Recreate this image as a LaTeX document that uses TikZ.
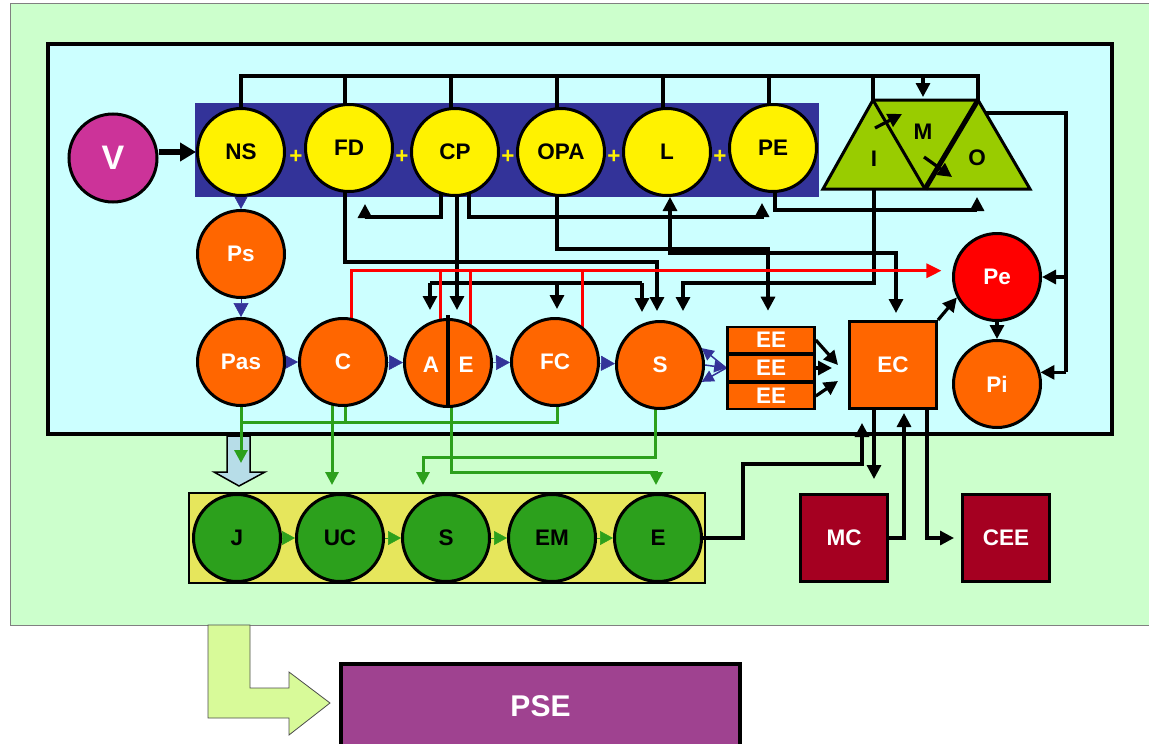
\documentclass[tikz,border=0pt]{standalone}
\usepackage{fontspec}
\setmainfont{Liberation Sans}
\usetikzlibrary{calc}
\usetikzlibrary{arrows.meta}
\definecolor{bgreen}{HTML}{CCFFCC}
\definecolor{cyanbg}{HTML}{CCFFFF}
\definecolor{band}{HTML}{333399}
\definecolor{orng}{HTML}{FF6600}
\definecolor{dgreen}{HTML}{2CA01C}
\definecolor{ybox}{HTML}{E6E65C}
\definecolor{mcred}{HTML}{A50021}
\definecolor{pse}{HTML}{9F4290}
\definecolor{vmag}{HTML}{CC3399}
\definecolor{trapg}{HTML}{99CC00}
\definecolor{lblue}{HTML}{B7DDE8}
\definecolor{bentg}{HTML}{D8FA99}
\newcommand\lbl{\fontsize{22.5}{25}\selectfont\bfseries}
\pgfdeclarelayer{back}
\pgfdeclarelayer{wires}
\pgfsetlayers{back,wires,main}

\begin{document}
\begin{tikzpicture}[x=1pt,y=-1pt,
  ball/.style={circle,draw,line width=3pt,minimum size=87pt,inner sep=0pt,font=\lbl},
  yball/.style={ball,fill=yellow},
  oball/.style={ball,fill=orng,text=white},
  gball/.style={ball,fill=dgreen},
  sqbox/.style={draw,line width=3pt,minimum size=87pt,inner sep=0pt,font=\lbl,text=white},
  eebox/.style={draw,line width=2.6pt,fill=orng,minimum width=87pt,minimum height=26pt,inner sep=0pt,font=\lbl,text=white},
  wire/.style={line width=3.2pt},
  arr/.style={wire,-{Triangle[length=14pt,width=14pt]}},
  arrs/.style={wire,{Triangle[length=14pt,width=14pt]}-{Triangle[length=14pt,width=14pt]}},
  rw/.style={line width=3pt,draw=red},
  rarr/.style={rw,-{Triangle[length=15pt,width=14pt]}},
  gw/.style={line width=3pt,draw=dgreen},
  garr/.style={gw,-{Triangle[length=13pt,width=13pt]}},
  btri/.style={draw=band,line width=0.5pt,-{Triangle[length=14pt,width=15pt]}},
  gtri/.style={draw=dgreen,line width=0.5pt,-{Triangle[length=13pt,width=14pt]}},
  barr/.style={draw=band,line width=1.5pt,-{Triangle[length=12pt,width=12pt]}},
  plus/.style={text=yellow,font=\lbl}]
\useasboundingbox (0,0) rectangle (1149,744);

% nodes
\node[circle,draw,line width=3pt,fill=vmag,minimum size=88pt,inner sep=0pt,
  text=white,font=\fontsize{34}{38}\selectfont\bfseries] (V) at (113,158) {V};
\node[yball] (NS) at (241,152) {NS};
\node[yball] (FD) at (349,148) {FD};
\node[yball] (CP) at (455,152) {CP};
\node[yball] (OPA) at (561,152) {OPA};
\node[yball] (L) at (667,152) {L};
\node[yball] (PE) at (773,148) {PE};
\foreach \x [count=\i] in {296,402,508,614,720}
  \node[plus] (plus\i) at (\x,157) {+};

\node[oball] (Ps) at (241,254) {Ps};
\node[oball] (Pas) at (241,362) {Pas};
\node[oball] (C) at (343,362) {C};
\node[oball] (AE) at (448,363) {};
\node[text=white,font=\lbl] (A) at (431,365) {A};
\node[text=white,font=\lbl] (E) at (466,365) {E};
\draw[line width=3.5pt] ([yshift=3pt]AE.north) -- (AE.south);
\node[oball] (FC) at (555,362) {FC};
\node[oball] (S) at (660,365) {S};
\node[eebox] (EE1) at (771,340) {EE};
\node[eebox] (EE2) at (771,368) {EE};
\node[eebox] (EE3) at (771,396) {EE};
\node[sqbox,fill=orng] (EC) at (893,365) {EC};
\node[ball,fill=red,text=white] (Pe) at (997,277) {Pe};
\node[oball] (Pi) at (997,384) {Pi};

\node[gball] (J) at (237,538) {J};
\node[gball] (UC) at (340,538) {UC};
\node[gball] (Sb) at (446,538) {S};
\node[gball] (EM) at (552,538) {EM};
\node[gball] (Eb) at (658,538) {E};
\node[sqbox,fill=mcred] (MC) at (844,538) {MC};
\node[sqbox,fill=mcred] (CEE) at (1006,538) {CEE};
\node[draw,line width=3.5pt,fill=pse,text=white,font=\fontsize{30}{34}\selectfont\bfseries,
  minimum width=399pt,minimum height=84pt] (PSE) at (540.5,706) {PSE};

% trapezoid I M O
\coordinate (BL) at (823,189);
\coordinate (BM) at (925,189);
\coordinate (BR) at (1030,189);
\coordinate (TL) at (873,100);
\coordinate (TR) at (978,100);
\draw[fill=trapg,line width=3pt] (BL) -- (TL) -- (TR) -- (BR) -- cycle;
\draw[line width=3pt] (TL) -- (BM);
\draw[line width=5pt] (BM) -- (TR);
\node[font=\lbl] (I) at (874,159) {I};
\node[font=\lbl] (M) at (923,132) {M};
\node[font=\lbl] (O) at (977,158) {O};
\draw[arr] (875,128) -- (902,114);
\draw[arr] (924,157) -- (952,177);

\begin{pgfonlayer}{back}
\draw[fill=bgreen,draw=gray,line width=0.8pt] (10,3) rectangle (1165,625);
\draw[fill=cyanbg,line width=4pt] (48,44) rectangle (1112,434);
\fill[band] (195,103) rectangle (819,197);
\draw[fill=ybox,line width=2.6pt] (189,493) rectangle (705,583);
\draw[fill=bentg,draw=gray!60!black,line width=0.8pt] (208,625) -- (250,625) -- (250,688)
  -- (289,688) -- (289,672) -- (330,703) -- (289,735) -- (289,718) -- (208,718) -- cycle;
\end{pgfonlayer}

\begin{pgfonlayer}{wires}
% top bus
\coordinate (busy) at (0,76);
\draw[wire] (NS.center) -- (NS.center |- busy) -- (TR |- busy) -- (TR);
\foreach \n in {FD,CP,OPA,L,PE}
  \draw[wire] ([xshift=-4pt]\n.center) -- ([xshift=-4pt]\n.center |- busy);
\draw[wire] (TL) -- (TL |- busy);
\draw[arr,shorten >=3pt] (M |- busy) -- (M |- TL);
\draw[line width=5.5pt,-{Triangle[length=16pt,width=18pt]}] (V.east |- NS.west) -- (NS.west);
% top row to middle row
\draw[arr,shorten >=11pt] ([xshift=-14pt]CP.center) -- ++(0,65) -| ([xshift=16pt]FD.south);
\draw[arr,shorten >=9pt] ([xshift=-4pt]FD.center) -- ++(0,114) -| ([xshift=-3pt]S.north);
\draw[arr,shorten >=8pt] ([xshift=2pt]CP.center) -- ([xshift=2pt]CP.center |- AE.north);
\draw[arr,shorten >=10pt] ([xshift=14pt]CP.center) -- ++(0,65) -| ([xshift=-11pt]PE.south);
\draw[arr,shorten >=15pt] ([xshift=-4pt]OPA.center) -- ++(0,97) -| ([xshift=-3pt]EE1.north);
\draw[arrs,shorten >=7pt] ([xshift=3pt]L.south) -- ++(0,56) -| ([xshift=3pt]EC.north);
\draw[arr,shorten >=9pt] (I |- BL) -- ++(0,94) -| ([xshift=23pt]S.north);
\draw[arr,shorten >=8pt] ([xshift=2pt]PE.center) -- ++(0,62) -| (O |- BR);
\coordinate (busA) at (430,283);
\coordinate (busS) at (642,283);
\draw[wire] (busA) -- (busS);
\draw[arr,shorten >=8pt] (busA) -- (busA |- AE.north);
\draw[arr,shorten >=8pt] ([xshift=2pt]FC.north |- busA) -- ([xshift=2pt]FC.north);
\draw[arr,shorten >=8pt] (busS) -- (busS |- S.north);
% right side
\coordinate (Oout) at (986,113);
\coordinate (rside) at (1066,113);
\draw[wire] (Oout) -- (rside) -- (rside |- Pi.15);
\draw[arr] (rside |- Pe.east) -- (Pe.east);
\draw[arr] (rside |- Pi.15) -- (Pi.15);
\draw[arr] (Pe) -- (Pi);
\draw[arr] (EC.north east) -- (Pe.207);
\draw[arr] (EE1.east) -- ([xshift=-10pt]EC.west);
\draw[arr] (EE2.east) -- ([xshift=-16pt,yshift=-3pt]EC.west);
\draw[arr] (EE3.east) -- ([xshift=-10pt,yshift=-16pt]EC.west);
\draw[barr] (EE2.west) -- (S.22);
\draw[barr] (EE2.west) -- (S.-22);
\draw[barr] (S.east) -- (EE2.west);
% chain arrows
\foreach \a/\b in {NS/Ps,Ps/Pas,Pas/C,C/AE,AE/FC,FC/S}
  \draw[btri] (\a) -- (\b);
\foreach \a/\b in {J/UC,UC/Sb,Sb/EM,EM/Eb}
  \draw[gtri] (\a) -- (\b);
% red
\draw[rarr,shorten >=11pt] ([xshift=8pt]C.center) |- (Pe.172);
\draw[rw] ([xshift=-8pt]AE.center) -- ++(0,-92);
\draw[rw] ([xshift=22pt]AE.center) -- ++(0,-92);
\draw[rw] ([xshift=27pt]FC.center) -- ++(0,-91);
% green
\draw[fill=lblue,line width=1.5pt] (227,436) -- (250,436) -- (250,472) -- (265,472)
  -- (239,486) -- (214,472) -- (227,472) -- cycle;
\coordinate (gbus) at (0,422);
\draw[garr] (Pas.center) -- ++(0,101);
\draw[gw] (Pas.center |- gbus) -- ([xshift=2pt]FC.center |- gbus) -- ([xshift=2pt]FC.center);
\draw[gw] ([xshift=2pt]C.center) -- ([xshift=2pt]C.center |- gbus);
\draw[garr,shorten >=8pt] ([xshift=-11pt]C.center) -- ([xshift=-11pt]C.center |- UC.north);
\draw[garr,shorten >=8pt] ([xshift=-5pt]S.center) -- ++(0,92) -| ([xshift=-23pt]Sb.north);
\draw[garr,shorten >=8pt] ([xshift=3pt]AE.center) -- ++(0,109) -| ([xshift=-2pt]Eb.north);
% bottom right
\draw[arr,shorten >=13pt] (Eb.east) -- ++(40,0) -- ++(0,-74) -| ([xshift=-31pt]EC.south);
\draw[arr,shorten >=14pt] ([xshift=-19pt]EC.south) -- ([xshift=-19pt]EC.south |- MC.north);
\draw[arr,shorten >=3pt] (MC.east) -| ([xshift=11pt]EC.south);
\draw[arr,shorten >=7pt] ([xshift=34pt]EC.south) |- (CEE.west);
\end{pgfonlayer}
\end{tikzpicture}
\end{document}
